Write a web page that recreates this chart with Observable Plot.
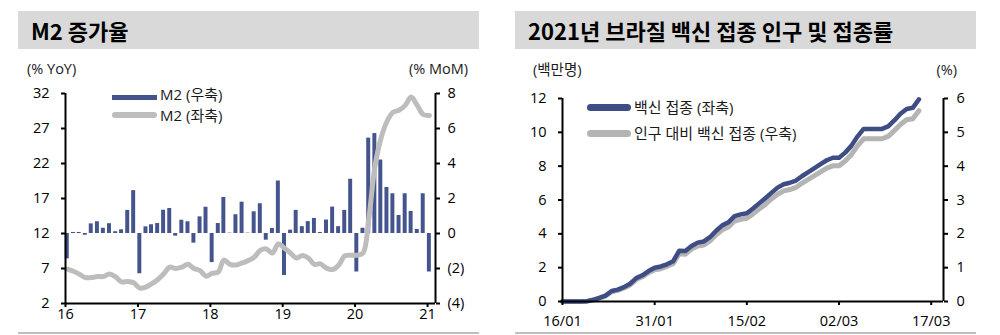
<!DOCTYPE html>
<html><head><meta charset="utf-8">
<script src="https://cdn.jsdelivr.net/npm/d3@7"></script>
<script src="https://cdn.jsdelivr.net/npm/@observablehq/plot@0.6"></script>
<style>
body{margin:0;background:#fff;font-family:"Open Sans","Noto Sans CJK KR",sans-serif;}
#wrap{position:relative;width:1000px;height:335px;overflow:hidden;background:#fff}
.title{position:absolute;top:11px;height:38px;width:461px;background:#d9d9d9;font-family:"Noto Sans CJK KR",sans-serif;font-weight:700;font-size:22px;line-height:38px;padding-left:13px;box-sizing:border-box;color:#000}
.sep{position:absolute;top:332px;height:2px;width:461px;background:#bfbfbf}
.lbl{position:absolute;font-size:14.5px;color:#1a1a1a;line-height:1;white-space:nowrap;transform:translateY(-50%)}
.leg{font-size:15px}
.chart{position:absolute;top:0}
.sw{position:absolute}
</style></head>
<body><div id="wrap">
<div class="title" style="left:18px">M2 증가율</div>
<div class="title" style="left:515px">2021년 브라질 백신 접종 인구 및 접종률</div>
<div class="sep" style="left:18px"></div>
<div class="sep" style="left:515px"></div>
<div id="c1" class="chart" style="left:0"></div>
<div id="c2" class="chart" style="left:500px"></div>
<div class="lbl" style="left:27px;top:69px">(% YoY)</div>
<div class="lbl" style="right:532px;top:69px">(% MoM)</div>
<div class="lbl" style="left:533px;top:70px">(백만명)</div>
<div class="lbl" style="right:43px;top:70px">(%)</div>
<div class="sw" style="left:112px;top:95px;width:45px;height:5px;background:#44548c"></div>
<div class="lbl leg" style="left:160px;top:94px">M2 (우축)</div>
<div class="sw" style="left:112px;top:112px;width:45px;height:6px;border-radius:3px;background:#bdbdbd"></div>
<div class="lbl leg" style="left:160px;top:115px">M2 (좌축)</div>
<div class="sw" style="left:587px;top:104px;width:44px;height:7px;border-radius:4px;background:#3f4d85"></div>
<div class="lbl leg" style="left:634px;top:107px">백신 접종 (좌축)</div>
<div class="sw" style="left:587px;top:130px;width:44px;height:7px;border-radius:4px;background:#b4b4b4"></div>
<div class="lbl leg" style="left:634px;top:133px">인구 대비 백신 접종 (우축)</div>
</div>
<script>
// ---------- Left chart data (monthly, Jan 2016 – Jan 2021) ----------
const m2MoM = [
  -1.45, 0.06, 0.06, -0.1, 0.55, 0.67, 0.3, 0.56, 0.1, 0.21, 1.32, 2.45,
  -2.3, 0.38, 0.5, 0.57, 1.33, 1.43, -0.15, 0.76, 0.67, -0.55, 0.95, 1.5,
  -1.66, 0.57, 2.06, 0.02, 1.07, 1.79, 0.02, 1.24, 1.7, -0.38, 0.29, 3.0,
  -2.4, 0.19, 1.32, 0.39, 0.68, 0.86, 0.06, 0.77, 1.51, 0.39, 1.32, 3.1,
  -2.2, 0.3, 5.45, 5.71, 4.2, 2.63, 2.27, 1.03, 2.27, 1.26, 0.23, 2.27,
  -2.2
];
const m2YoY = [
  6.9, 6.6, 6.2, 5.7, 5.7, 5.85, 5.85, 6.2, 5.8, 5.1, 5.15, 4.95,
  4.2, 4.35, 4.8, 5.4, 6.2, 7.2, 7.0, 7.2, 7.6, 7.0, 6.7, 5.9,
  6.3, 6.5, 8.2, 7.6, 7.5, 7.8, 8.1, 8.6, 9.6, 9.8, 9.2, 10.5,
  9.9, 9.2, 8.5, 8.85, 8.5, 7.6, 7.65, 7.05, 6.85, 7.45, 8.8, 8.9,
  8.9, 9.2, 14.0, 21.5, 25.5, 28.0, 29.3, 29.6, 30.3, 31.5, 30.3, 29.0,
  28.85
];
const yoyTicks = [2, 7, 12, 17, 22, 27, 32];
const momTicks = [-4, -2, 0, 2, 4, 6, 8];
const yearTicks = [2016, 2017, 2018, 2019, 2020, 2021];

// ---------- Right chart data (daily, from 16 Jan 2021) ----------
const vacStart = Date.UTC(2021, 0, 16);
const vaccinated = [
  0, 0, 0, 0, 0.02, 0.1, 0.22, 0.35, 0.62, 0.7, 0.85, 1.05, 1.38, 1.55, 1.8, 2.0,
  2.07, 2.2, 2.38, 3.0, 2.98, 3.28, 3.48, 3.55, 3.8, 4.18, 4.5, 4.68, 5.05, 5.15,
  5.22, 5.5, 5.8, 6.1, 6.42, 6.73, 6.93, 7.02, 7.15, 7.42, 7.65, 7.88, 8.12, 8.35,
  8.5, 8.5, 8.8, 9.2, 9.75, 10.2, 10.2, 10.2, 10.2, 10.35, 10.7, 11.1, 11.38, 11.45, 11.95
];
const vaccinatedPct = [
  0, 0, 0, 0, 0.01, 0.04, 0.1, 0.16, 0.29, 0.33, 0.4, 0.49, 0.65, 0.73, 0.85, 0.94,
  0.97, 1.04, 1.12, 1.41, 1.4, 1.55, 1.64, 1.67, 1.79, 1.97, 2.12, 2.2, 2.38, 2.43,
  2.46, 2.59, 2.73, 2.87, 3.03, 3.17, 3.27, 3.31, 3.37, 3.5, 3.61, 3.72, 3.83, 3.94,
  4.01, 4.01, 4.15, 4.34, 4.6, 4.81, 4.81, 4.81, 4.81, 4.88, 5.05, 5.23, 5.37, 5.4, 5.64
];
const peopleTicks = [0, 2, 4, 6, 8, 10, 12];
const pctTicks = [0, 1, 2, 3, 4, 5, 6];
const dateTicks = ["2021-01-16", "2021-01-31", "2021-02-15", "2021-03-02", "2021-03-17"];

const FONT = '"Open Sans","Noto Sans CJK KR",sans-serif';
const FS = "14.5px";
const BAR = "#44548c", GREY = "#bdbdbd", BLUE = "#3f4d85", GREY2 = "#b4b4b4";

// left chart
const mDate = i => new Date(Date.UTC(2016, i, 10));
const m2 = m2MoM.map((v, i) => ({date: mDate(i), mom: v, yoy: m2YoY[i]}));
const momToLeft = v => 12 + v * 2.5;
const fmtParen = n => { n = Math.round(n * 100) / 100; return n < 0 ? `(${-n})` : `${n}`; };
const xDom1 = [new Date(Date.UTC(2016, 0, 1)), new Date(Date.UTC(2021, 1, 10))];

const p1 = Plot.plot({
  width: 500, height: 335,
  marginLeft: 65, marginRight: 65, marginTop: 93, marginBottom: 32,
  style: {background: "transparent", fontFamily: FONT, fontSize: FS, color: "#000", overflow: "visible"},
  x: {type: "utc", domain: xDom1},
  y: {domain: [2, 32]},
  marks: [
    Plot.rect(m2, {
      x1: d => d3.utcDay.offset(d.date, -10), x2: d => d3.utcDay.offset(d.date, 10),
      y1: () => momToLeft(0), y2: d => momToLeft(d.mom), fill: BAR
    }),
    Plot.line(m2, {x: "date", y: "yoy", stroke: GREY, strokeWidth: 5, curve: "catmull-rom", strokeLinejoin: "round", strokeLinecap: "round"}),
    Plot.ruleX([xDom1[0], xDom1[1]], {stroke: "#000", strokeWidth: 2}),
    Plot.ruleY([2], {stroke: "#000", strokeWidth: 2}),
    Plot.axisY({anchor: "left", ticks: yoyTicks, tickSize: 4, tickPadding: 12, strokeWidth: 2, label: null}),
    Plot.axisY({anchor: "right", ticks: momTicks.map(momToLeft), tickFormat: v => fmtParen((v - 12) / 2.5), tickSize: 4, tickPadding: 8, strokeWidth: 2, label: null}),
    Plot.axisX({ticks: yearTicks.map(y => new Date(Date.UTC(y, 0, 1))), tickFormat: d => String(d.getUTCFullYear()).slice(2), tickSize: 4, tickPadding: 1, strokeWidth: 2, label: null})
  ]
});
document.getElementById("c1").appendChild(p1);

// right chart
const vac = vaccinated.map((v, i) => ({date: d3.utcDay.offset(new Date(vacStart), i), people: v, pct: vaccinatedPct[i]}));
const xDom2 = [new Date(vacStart), new Date(Date.UTC(2021, 2, 19))];
const p2 = Plot.plot({
  width: 500, height: 335,
  marginLeft: 62, marginRight: 57, marginTop: 98, marginBottom: 34,
  style: {background: "transparent", fontFamily: FONT, fontSize: FS, color: "#000", overflow: "visible"},
  x: {type: "utc", domain: xDom2},
  y: {domain: [0, 12]},
  marks: [
    Plot.line(vac, {x: "date", y: d => d.pct * 2, stroke: GREY2, strokeWidth: 5, strokeLinejoin: "round", strokeLinecap: "round"}),
    Plot.line(vac, {x: "date", y: "people", stroke: BLUE, strokeWidth: 4.5, strokeLinejoin: "round", strokeLinecap: "round"}),
    Plot.ruleX([xDom2[0], xDom2[1]], {stroke: "#000", strokeWidth: 2}),
    Plot.ruleY([0], {stroke: "#000", strokeWidth: 2}),
    Plot.axisY({anchor: "left", ticks: peopleTicks, tickSize: 4, tickPadding: 12, strokeWidth: 2, label: null}),
    Plot.axisY({anchor: "right", ticks: pctTicks.map(p => p * 2), tickFormat: v => String(Math.round(v / 2)), tickSize: 4, tickPadding: 9, strokeWidth: 2, label: null}),
    Plot.axisX({ticks: dateTicks.map(s => new Date(s + "T00:00:00Z")), tickFormat: d3.utcFormat("%d/%m"), tickSize: 4, tickPadding: 10, strokeWidth: 2, label: null})
  ]
});
document.getElementById("c2").appendChild(p2);
</script>
</body></html>
